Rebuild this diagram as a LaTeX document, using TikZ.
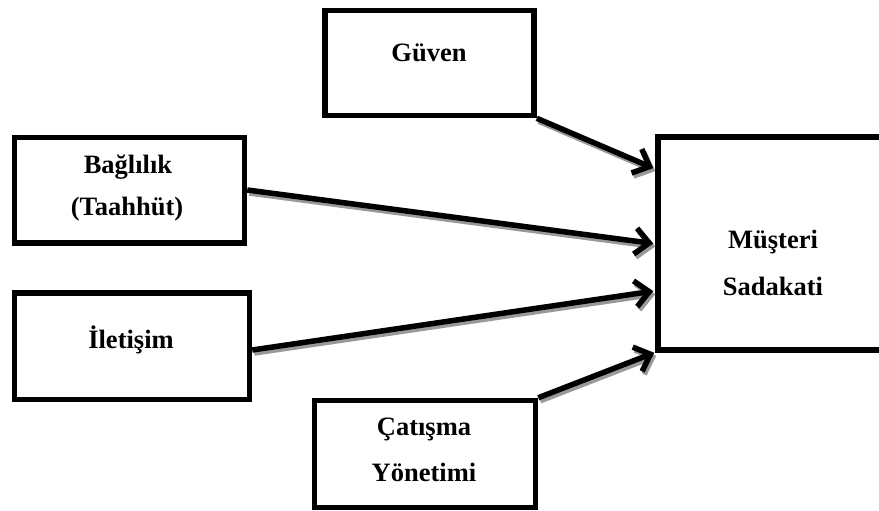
\documentclass[tikz,border=0pt]{standalone}
\usepackage{fontspec}
\setmainfont{Liberation Serif}
\usetikzlibrary{arrows.meta,calc}
\tikzset{
  box/.style={draw=black, line width=5.5pt, fill=white, inner sep=0pt},
  lbl/.style={font=\fontsize{26.5}{30}\selectfont\bfseries, anchor=base, inner sep=0pt},
  link/.style={line width=5.5pt, -{Straight Barb[length=14pt,width=26pt]}},
  linkshadow/.style={link, draw=black!40, transform canvas={shift={(2pt,-3pt)}}}
}
\begin{document}
\begin{tikzpicture}[x=1pt,y=-1pt]
  \useasboundingbox (0,0) rectangle (879,511);
  \clip (0,0) rectangle (879,511);

  % boxes
  \node[box, minimum width=209pt, minimum height=105pt] (guven) at (429.5,63) {};
  \node[box, minimum width=230pt, minimum height=105.5pt] (bag) at (129.5,190) {};
  \node[box, minimum width=235pt, minimum height=106.5pt] (ilet) at (132,346) {};
  \node[box, minimum width=221pt, minimum height=107pt] (cat) at (425,454) {};
  \node[box, minimum width=242pt, minimum height=213pt] (mus) at (779,243.5) {};

  % labels
  \node[lbl] (tguven) at (429,62) {Güven};
  \node[lbl] (tbag1) at (128,173) {Bağlılık};
  \node[lbl] (tbag2) at (127,215) {(Taahhüt)};
  \node[lbl] (tilet) at (131,348) {İletişim};
  \node[lbl] (tcat1) at (424,435) {Çatışma};
  \node[lbl] (tcat2) at (424,481) {Yönetimi};
  \node[lbl] (tmus1) at (773,248) {Müşteri};
  \node[lbl] (tmus2) at (773,295) {Sadakati};

  % arrival points on the left side of the outcome box
  \coordinate (in1) at ($(mus.north west)!0.155!(mus.south west)+(-2,0)$);
  \coordinate (in2) at ($(mus.west)+(-2,0)$);
  \coordinate (in3) at ($(mus.north west)!0.718!(mus.south west)+(-2,0)$);
  \coordinate (in4) at ($(mus.south west)+(-1,0)$);
  \coordinate (out3) at ($(ilet.east)+(0,4)$);

  % shadows
  \draw[linkshadow] (guven.south east) -- (in1);
  \draw[linkshadow] (bag.east) -- (in2);
  \draw[linkshadow] (out3) -- (in3);
  \draw[linkshadow] (cat.north east) -- (in4);

  % connectors
  \draw[link] (guven.south east) -- (in1);
  \draw[link] (bag.east) -- (in2);
  \draw[link] (out3) -- (in3);
  \draw[link] (cat.north east) -- (in4);
\end{tikzpicture}
\end{document}
